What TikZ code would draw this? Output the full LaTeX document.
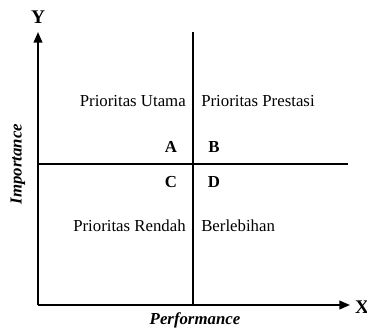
\documentclass[tikz,border=0pt]{standalone}
\usepackage{fontspec}
\setmainfont{Liberation Serif}
\usetikzlibrary{arrows.meta, positioning}
\tikzset{
  axis/.style={line width=1.3pt, -{Triangle[length=8pt, width=6.5pt]}},
  divider/.style={line width=0.8pt},
  quad/.style={font=\fontsize{12.6}{15}\selectfont, inner sep=0pt},
  tag/.style={font=\fontsize{12.6}{15}\selectfont\bfseries, inner sep=0pt},
  axname/.style={font=\fontsize{14.5}{17}\selectfont\bfseries, inner sep=0pt},
  axlabel/.style={font=\fontsize{12.6}{15}\selectfont\bfseries\itshape, inner sep=0pt},
}
\begin{document}
\begin{tikzpicture}[x=0.75pt, y=0.75pt]
  \useasboundingbox (0,0) rectangle (367,328);
  % axes
  \coordinate (o) at (38,23);
  \coordinate (ytip) at (38,296);
  \coordinate (xtip) at (350,23);
  \draw[axis] (o) -- (ytip);
  \draw[axis] (o) -- (xtip);
  \node[axname] (ylab) at (38,311) {Y};
  \node[axname] (xlab) at (362,21) {X};
  \node[axlabel, rotate=90] (imp) at (18,164) {Importance};
  \node[axlabel] (perf) at (195,8) {Performance};
  % quadrant lines
  \coordinate (vtop) at (193,296);
  \coordinate (vbot) at (193,23);
  \coordinate (hleft) at (38,164);
  \coordinate (hright) at (348,164);
  \draw[divider] (vbot) -- (vtop);
  \draw[divider] (hleft) -- (hright);
  % quadrant texts
  \node[quad, anchor=east] (utama) at (186,227) {Prioritas Utama};
  \node[quad, anchor=west] (prestasi) at (201,227) {Prioritas Prestasi};
  \node[quad, anchor=east] (rendah) at (186,102) {Prioritas Rendah};
  \node[quad, anchor=west] (lebih) at (201,102) {Berlebihan};
  \node[tag] (a) at (171,181) {A};
  \node[tag] (b) at (214,181) {B};
  \node[tag] (c) at (171,146) {C};
  \node[tag] (d) at (214,146) {D};
\end{tikzpicture}
\end{document}
